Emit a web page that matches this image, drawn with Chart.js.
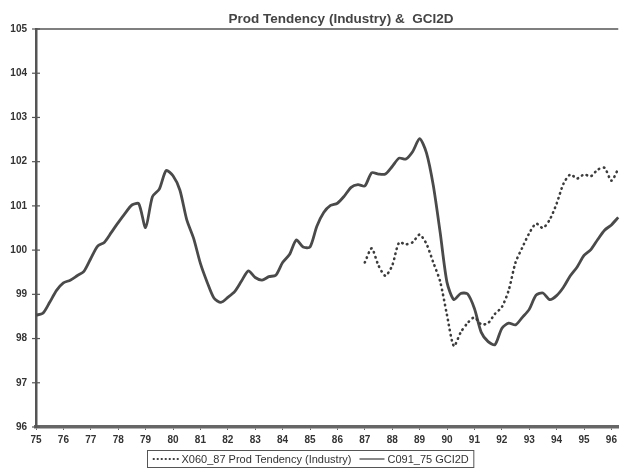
<!DOCTYPE html>
<html>
<head>
<meta charset="utf-8">
<script src="https://cdn.jsdelivr.net/npm/chart.js@4/dist/chart.umd.min.js"></script>
<style>
  body { margin: 0; background: #fff; }
  #wrap { width: 621px; height: 469px; }
</style>
</head>
<body>
<div id="wrap"><canvas id="chart-line" width="621" height="469"></canvas></div>
<script>
// year labels shown on the x axis (data is quarterly)
var yearLabels = ['75', '76', '77', '78', '79', '80', '81', '82', '83', '84', '85',
    '86', '87', '88', '89', '90', '91', '92', '93', '94', '95', '96'];
var quarters = ['Q1', 'Q2', 'Q3', 'Q4'];
var lastYearQuarters = 2;

var yTicks = [96, 97, 98, 99, 100, 101, 102, 103, 104, 105];

// C091_75 GCI2D, quarterly from 75 Q1
var gci2d = [
    98.53, 98.57, 98.82, 99.09,
    99.26, 99.32, 99.42, 99.52,
    99.81, 100.09, 100.18, 100.40,
    100.62, 100.83, 101.02, 101.05,
    100.51, 101.21, 101.38, 101.80,
    101.68, 101.36, 100.69, 100.27,
    99.70, 99.27, 98.91, 98.82,
    98.93, 99.06, 99.30, 99.53,
    99.38, 99.32, 99.40, 99.43,
    99.72, 99.90, 100.23, 100.07,
    100.07, 100.54, 100.85, 101.01,
    101.06, 101.22, 101.42, 101.48,
    101.45, 101.75, 101.72, 101.72,
    101.89, 102.08, 102.06, 102.23,
    102.52, 102.20, 101.46, 100.40,
    99.27, 98.88, 99.02, 99.01,
    98.68, 98.14, 97.93, 97.86,
    98.23, 98.35, 98.31, 98.48,
    98.66, 98.98, 99.03, 98.88,
    98.97, 99.16, 99.42, 99.62,
    99.88, 100.01, 100.24, 100.45,
    100.57, 100.74
];

// X060_87 Prod Tendency (Industry), quarterly from 87 Q1
var prodStart = '87 Q1';
var prodTendency = [
    99.72, 100.04, 99.65, 99.42,
    99.65, 100.17, 100.13, 100.18,
    100.35, 100.14, 99.72, 99.29,
    98.53, 97.83, 98.14, 98.35,
    98.48, 98.32, 98.35, 98.56,
    98.71, 99.09, 99.72, 100.06,
    100.38, 100.60, 100.50, 100.69,
    101.05, 101.50, 101.71, 101.62,
    101.71, 101.67, 101.82, 101.86,
    101.57, 101.84
];

var labels = [];
yearLabels.forEach(function (y, i) {
    var n = i === yearLabels.length - 1 ? lastYearQuarters : 4;
    for (var q = 0; q < n; q++) labels.push(y + ' ' + quarters[q]);
});

var prodData = labels.map(function () { return null; });
var startIdx = labels.indexOf(prodStart);
prodTendency.forEach(function (v, i) { prodData[startIdx + i] = v; });

var tickFont = { family: 'Liberation Sans, Arial, sans-serif', size: 10, weight: 'bold' };

var framePlugin = {
    id: 'frame',
    afterDraw: function (chart) {
        var ctx = chart.ctx;
        var a = chart.chartArea;
        var ys = chart.scales.y;
        ctx.save();
        // top frame line
        ctx.strokeStyle = '#555';
        ctx.lineWidth = 1.5;
        ctx.beginPath();
        ctx.moveTo(a.left, a.top);
        ctx.lineTo(a.right, a.top);
        ctx.stroke();
        // tick crosses on the y axis
        ctx.lineWidth = 1.2;
        yTicks.forEach(function (t) {
            var py = ys.getPixelForValue(t);
            ctx.beginPath();
            ctx.moveTo(a.left - 4, py);
            ctx.lineTo(a.left + 4, py);
            ctx.stroke();
        });

        // title
        ctx.fillStyle = '#444';
        ctx.font = 'bold 13.5px Liberation Sans, Arial, sans-serif';
        ctx.textAlign = 'center';
        ctx.textBaseline = 'middle';
        ctx.fillText('Prod Tendency (Industry) &  GCI2D', 341, 19);

        // legend in a box
        var ds = chart.data.datasets;
        ctx.font = '11px Liberation Sans, Arial, sans-serif';
        var sample = 26, gap = 3, between = 7, pad = 5;
        var w1 = ctx.measureText(ds[0].label).width;
        var w2 = ctx.measureText(ds[1].label).width;
        var total = sample + gap + w1 + between + sample + gap + w2;
        var bx = Math.round(chart.width / 2 - total / 2 - pad) + 0.5;
        var by = 450.5, bh = 17;
        ctx.strokeStyle = '#555';
        ctx.lineWidth = 1;
        ctx.strokeRect(bx, by, total + pad * 2, bh);
        var cy = by + bh / 2;
        var x = bx + pad;
        ctx.textAlign = 'left';
        ds.forEach(function (d, i) {
            ctx.save();
            ctx.strokeStyle = d.borderColor;
            ctx.lineWidth = i === 0 ? 1.8 : 1.3;
            ctx.lineCap = i === 0 ? 'round' : 'butt';
            ctx.setLineDash(i === 0 ? [0.5, 3.5] : []);
            ctx.beginPath();
            ctx.moveTo(x + 1, cy);
            ctx.lineTo(x + sample, cy);
            ctx.stroke();
            ctx.restore();
            x += sample + gap;
            ctx.fillStyle = '#333';
            ctx.fillText(d.label, x, cy + 0.5);
            x += (i === 0 ? w1 : w2) + between;
        });
        ctx.restore();
    }
};

var ctxLine = document.getElementById('chart-line');
var chartLine = new Chart(ctxLine, {
    type: 'line',
    data: {
        labels: labels,
        datasets: [{
                label: 'X060_87 Prod Tendency (Industry)',
                data: prodData,
                borderColor: '#3c3c3c',
                borderWidth: 2.6,
                borderDash: [0.5, 4.6],
                borderCapStyle: 'round',
                pointRadius: 0,
                tension: 0.25,
                fill: false
            },
            {
                label: 'C091_75 GCI2D',
                data: gci2d,
                borderColor: '#4a4a4a',
                borderWidth: 2.8,
                pointRadius: 0,
                tension: 0.25,
                fill: false
            }
        ]
    },
    options: {
        responsive: false,
        animation: false,
        layout: { padding: { top: 29, right: 2, bottom: 20, left: 0 } },
        plugins: {
            legend: { display: false },
            title: { display: false },
            tooltip: { enabled: false }
        },
        scales: {
            x: {
                grid: { display: true, drawOnChartArea: false, tickLength: 3, color: '#666' },
                border: { display: true, color: '#666', width: 3.5 },
                ticks: {
                    autoSkip: false,
                    maxRotation: 0,
                    padding: 4,
                    color: '#333',
                    font: tickFont,
                    callback: function (val, i) {
                        return i % 4 === 0 ? yearLabels[i / 4] : null;
                    }
                },
                afterFit: function (scale) { scale.height = 22; }
            },
            y: {
                min: 96,
                max: 105,
                afterBuildTicks: function (scale) {
                    scale.ticks = yTicks.map(function (v) { return { value: v }; });
                },
                grid: { display: false, drawTicks: false },
                border: { display: true, color: '#555', width: 2.5 },
                ticks: {
                    padding: 9,
                    color: '#333',
                    font: tickFont
                },
                afterFit: function (scale) { scale.width = 36; }
            }
        }
    },
    plugins: [framePlugin]
});
</script>
</body>
</html>
